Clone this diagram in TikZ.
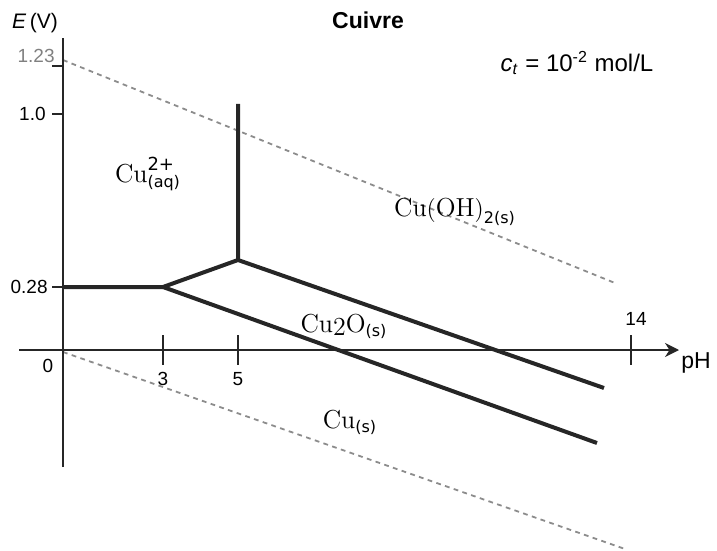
\documentclass[tikz,border=0pt]{standalone}
\usepackage{fontspec}
\setsansfont{Liberation Sans}
\newfontfamily\idxfont{DejaVu Sans}
\usetikzlibrary{arrows.meta}

% sizes of the small indices on the species
\newcommand{\supidx}[1]{\hbox{\idxfont\fontsize{9}{10}\selectfont #1}}
\newcommand{\subidx}[1]{\hbox{\idxfont\fontsize{8}{9}\selectfont #1}}

\begin{document}
\begin{tikzpicture}[x=0.5pt,y=-0.5pt,
  axis/.style={line width=1pt,draw=black!85},
  border/.style={line width=2pt,draw=black!85},
  water/.style={line width=0.9pt,draw=gray!90,dash pattern=on 2.4pt off 2.2pt},
  ticklabel/.style={font=\sffamily\fontsize{9.5}{11}\selectfont,inner sep=0pt},
  species/.style={font=\fontsize{13}{15}\selectfont,inner sep=0pt}]
\useasboundingbox (0,0) rectangle (717,551);

% water stability lines
\coordinate (Oa) at (63,60);
\coordinate (Ob) at (615,283);
\coordinate (Ha) at (63,352);
\coordinate (Hb) at (625,549);
\draw[water] (Oa) -- (Ob);
\draw[water] (Ha) -- (Hb);

% axes
\coordinate (Etop) at (63,38);
\coordinate (Ebot) at (63,467);
\coordinate (pHl) at (19,350);
\coordinate (pHr) at (679,350);
\draw[axis] (Ebot) -- (Etop);
\draw[axis,-{Stealth[length=7pt,width=7pt]}] (pHl) -- (pHr);
\foreach \y in {66,114,287}
  \draw[axis] (52,\y) -- (63,\y);
\foreach \x in {163,238,631}
  \draw[axis] (\x,335) -- (\x,365);

% tick labels
\node[ticklabel,anchor=east,text=gray] (e123) at (55,56) {1.23};
\node[ticklabel,anchor=east] (e10) at (46,114) {1.0};
\node[ticklabel,anchor=east] (e028) at (48,287) {0.28};
\node[ticklabel] (p0) at (48,366) {0};
\node[ticklabel] (p3) at (163,379) {3};
\node[ticklabel] (p5) at (238,379) {5};
\node[ticklabel] (p14) at (636,319) {14};
\node[font=\sffamily\fontsize{11.5}{13}\selectfont,inner sep=0pt] (ph) at (696,363) {pH};
\node[font=\sffamily\fontsize{10.5}{12}\selectfont,inner sep=0pt] (eunit) at (35,23) {\textit{E}\,(V)};
\node[font=\sffamily\bfseries\fontsize{11.5}{13}\selectfont,inner sep=0pt] (title) at (368,20) {Cuivre};
\node[font=\sffamily\fontsize{12}{14}\selectfont,inner sep=0pt] (conc) at (577,63)
  {\textit{c}\textsubscript{\textit{t}} = 10\textsuperscript{-2} mol/L};

% boundaries
\coordinate (A) at (63,287);
\coordinate (B) at (163,287);
\coordinate (C) at (238,260);
\coordinate (D) at (238,104);
\coordinate (F1) at (604,388);
\coordinate (F2) at (597,443);
\draw[border] (A) -- (B) -- (C) -- (D);
\draw[border] (C) -- (F1);
\draw[border] (B) -- (F2);

% species
\node[species] (cuaq) at (148,174) {$\mathrm{Cu}^{\supidx{2+}}_{\subidx{(aq)}}$};
\node[species] (cuoh) at (455,212) {$\mathrm{Cu(OH)}_{\subidx{2(s)}}$};
\node[species] (cuox) at (344,326) {Cu\raisebox{-0.3ex}{2}O$_{\subidx{(s)}}$};
\node[species] (cus) at (350,422) {Cu$_{\subidx{(s)}}$};
\end{tikzpicture}
\end{document}
